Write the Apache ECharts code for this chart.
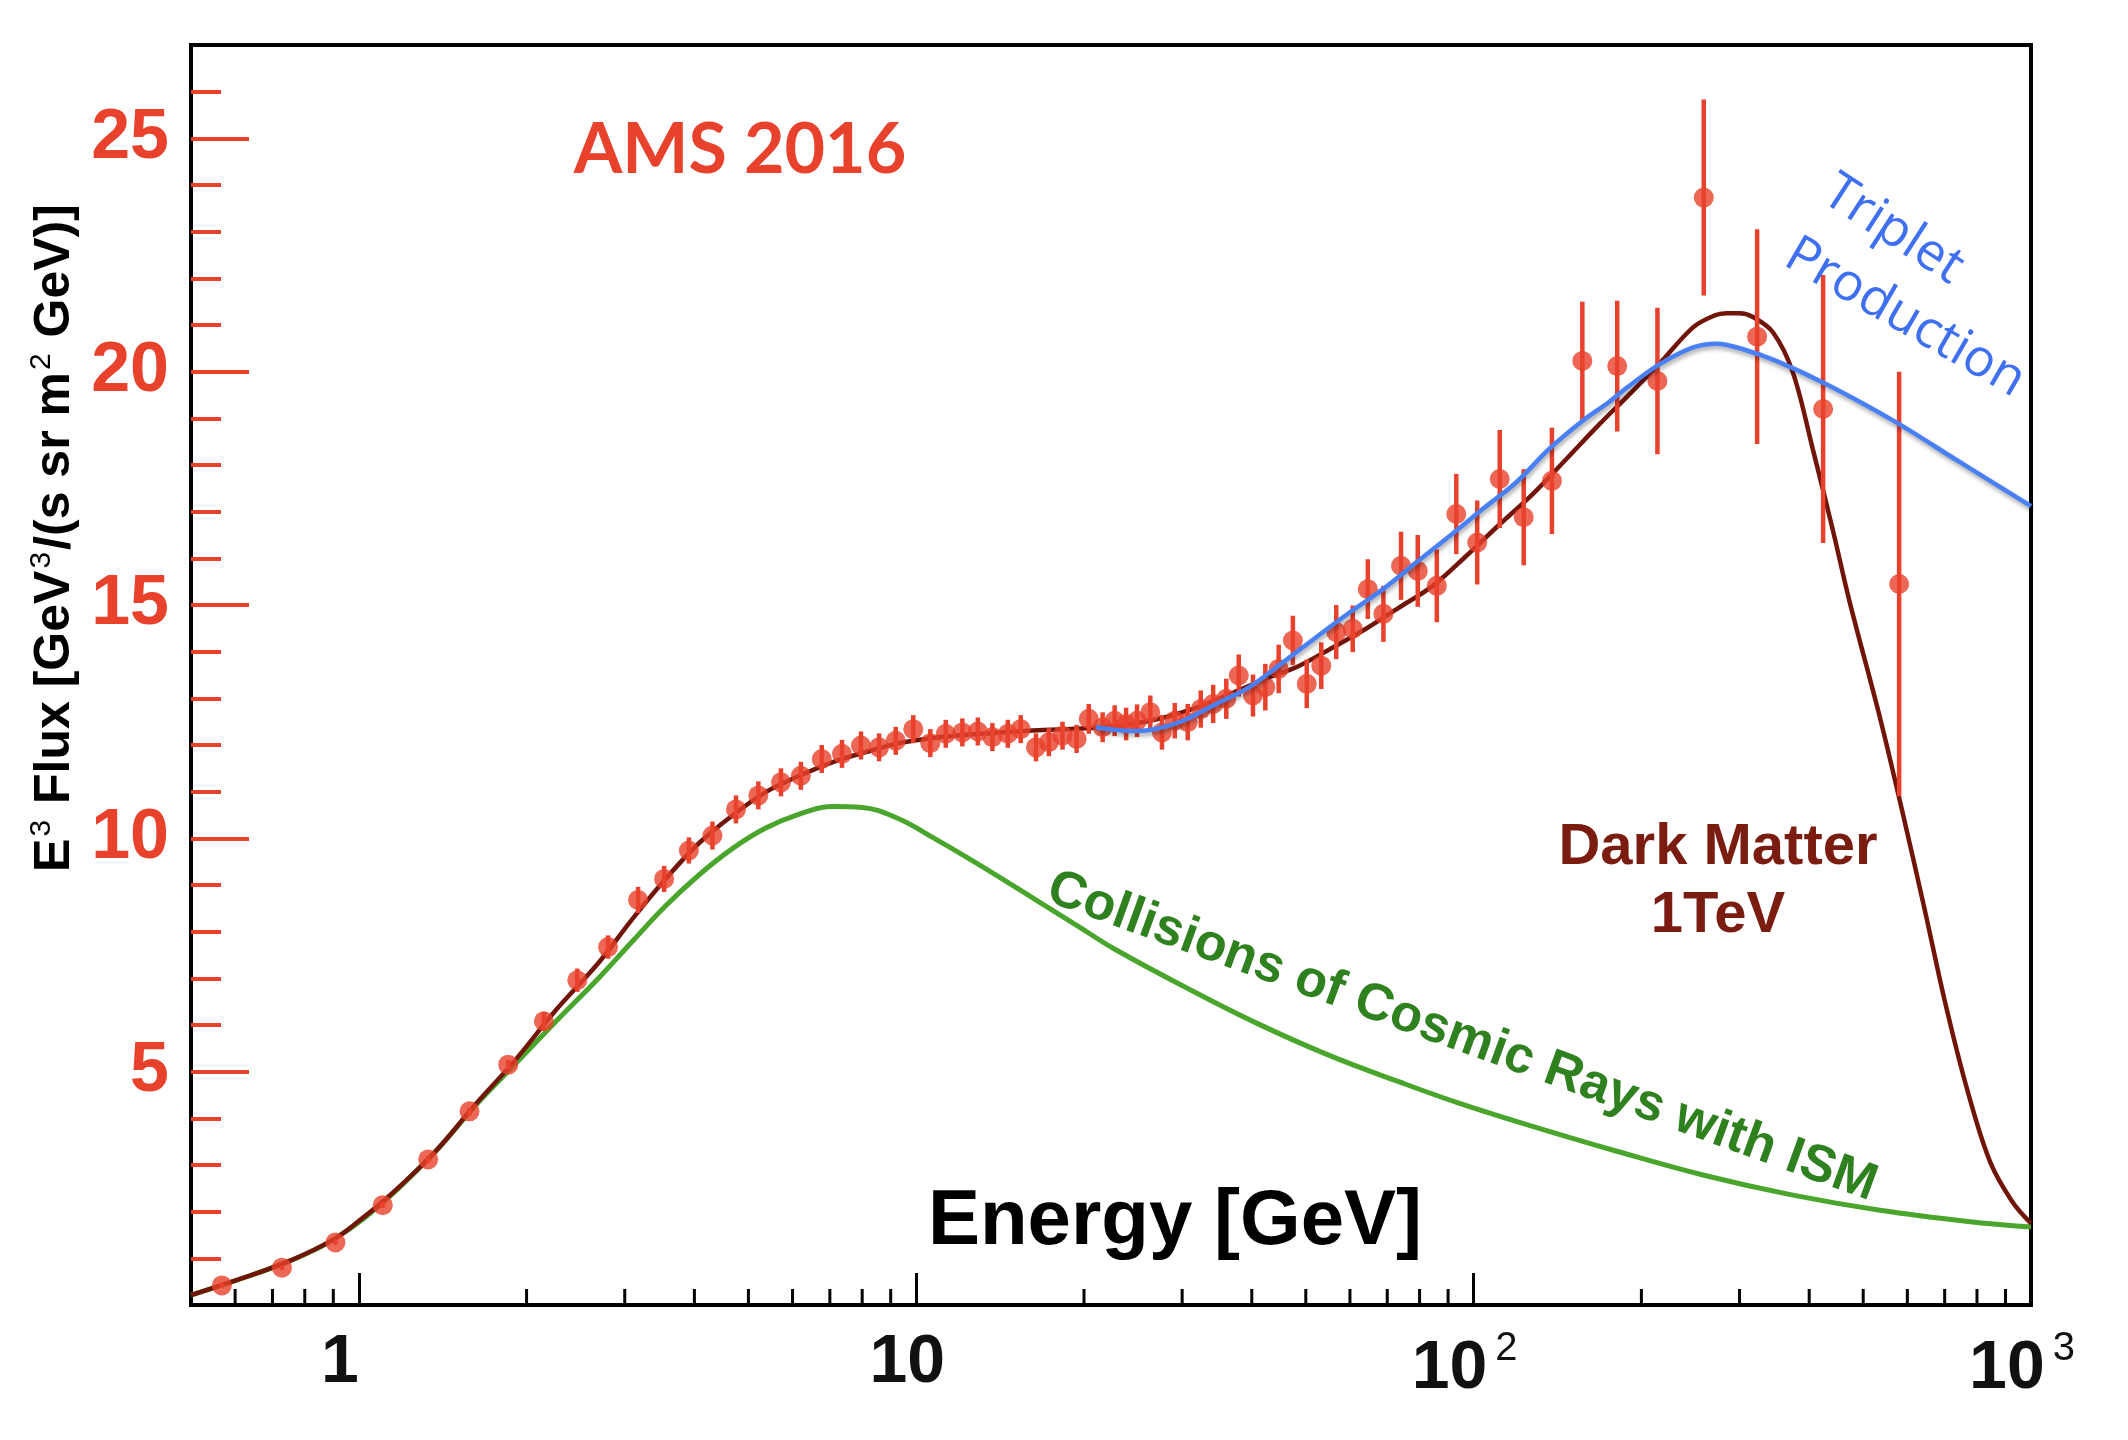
<!DOCTYPE html>
<html><head><meta charset="utf-8">
<script src="https://cdn.jsdelivr.net/npm/echarts@6/dist/echarts.min.js"></script>
<style>html,body{margin:0;padding:0;background:#fff}#c{width:2128px;height:1440px}</style>
</head><body><div id="c"></div>
<script>
// ---- AMS 2016 positron data points ----
const DATA_E = [0.568,0.728,0.908,1.104,1.332,1.58,1.854,2.148,2.466,2.80,3.17,3.53,3.91,4.31,4.75,5.21,5.72,6.21,6.77,7.36,7.96,8.58,9.19,9.88,10.6,11.3,12.1,12.9,13.7,14.6,15.4,16.4,17.3,18.3,19.4,20.4,21.6,22.7,23.8,24.9,26.3,27.6,29.1,30.7,32.4,34.1,36.0,37.9,40.2,42.3,44.7,47.4,50.2,53.3,56.7,60.7,64.6,68.9,74.1,79.4,85.9,93.1,101.5,111.4,123,138.2,156.7,181,213.7,258.8,322.6,423.7,580];
const DATA_F = [0.42,0.80,1.34,2.14,3.12,4.15,5.15,6.08,6.96,7.67,8.68,9.13,9.74,10.06,10.62,10.92,11.20,11.34,11.70,11.81,11.99,11.95,12.09,12.34,12.04,12.24,12.27,12.29,12.17,12.24,12.34,11.95,12.06,12.20,12.13,12.56,12.38,12.52,12.45,12.52,12.70,12.27,12.52,12.49,12.77,12.88,12.99,13.49,13.06,13.24,13.63,14.24,13.31,13.70,14.42,14.49,15.34,14.81,15.84,15.73,15.41,16.95,16.34,17.70,16.88,17.66,20.23,20.12,19.80,23.73,20.75,19.20,15.45];
const DATA_ERR = [0.05,0.05,0.05,0.06,0.07,0.08,0.1,0.2,0.25,0.25,0.28,0.28,0.28,0.3,0.3,0.3,0.3,0.3,0.3,0.3,0.3,0.3,0.3,0.3,0.3,0.3,0.3,0.3,0.3,0.3,0.3,0.3,0.3,0.3,0.3,0.32,0.32,0.33,0.35,0.35,0.36,0.37,0.38,0.39,0.4,0.41,0.43,0.45,0.45,0.5,0.52,0.53,0.52,0.5,0.58,0.5,0.64,0.6,0.73,0.77,0.78,0.86,0.9,1.05,1.03,1.14,1.27,1.4,1.57,2.1,2.3,2.87,4.55];

// ---- Dark Matter 1 TeV model ----
const DM_E = [0.5,0.6,0.75,0.9,1.0,1.13,1.37,1.62,1.9,2.25,2.7,3.1,3.55,4.08,4.68,5.37,6.17,7.07,8.13,9.32,10.7,12.3,14.1,16.2,18.6,21,24.4,28.1,32.2,37,42.4,48.7,55.9,64.1,73.6,84.5,97,111.4,127.8,146.7,168.4,188,215.8,247.6,270,284,300,317,344.6,374,406,442,472,536,587,643,704,771,845,925,1000];
const DM_F = [0.21,0.52,0.94,1.40,1.80,2.32,3.28,4.30,5.22,6.30,7.35,8.28,9.13,9.90,10.49,10.99,11.34,11.63,11.85,12.04,12.15,12.22,12.27,12.31,12.34,12.37,12.45,12.60,12.82,13.12,13.42,13.70,14.09,14.49,14.95,15.41,16.05,16.73,17.38,18.13,18.88,19.45,20.18,20.95,21.20,21.25,21.25,21.17,20.84,19.98,18.34,16.56,15.1,12.58,10.6,8.53,6.40,4.55,3.06,2.22,1.75];

// ---- Triplet production model ----
const TRIPLET_E = [21,24.4,26.2,30.1,34.5,39.6,45.5,52.2,59.9,68.8,78.9,90.6,103.9,119.3,136.8,157,175,188,215.8,247.6,272.8,304.5,349,429.5,566,745.6,1000];
const TRIPLET_F = [12.38,12.30,12.32,12.52,12.88,13.24,13.77,14.31,14.84,15.34,15.91,16.48,17.06,17.63,18.35,18.95,19.35,19.65,20.16,20.52,20.60,20.48,20.23,19.73,18.95,18.06,17.12];

// ---- Collisions of cosmic rays with ISM ----
const ISM_E = [0.5,0.6,0.75,0.9,1.1,1.37,1.62,1.91,2.25,2.7,3.1,3.55,4.08,4.68,5.37,6.17,7.07,8.0,9.3,10.7,12.5,14.5,16.8,19.5,22.6,30.4,40.8,54.8,73.6,94.4,125,180,259,372,536,771,1000];
const ISM_F = [0.21,0.52,0.94,1.40,2.18,3.28,4.28,5.17,6.06,7.02,7.80,8.55,9.22,9.78,10.22,10.52,10.68,10.66,10.42,10.02,9.55,9.08,8.60,8.12,7.64,6.81,6.04,5.36,4.78,4.32,3.86,3.30,2.78,2.36,2.03,1.79,1.67];

// ---- ticks ----
const X_MAJOR = [1,10,100,1000];
const X_MINOR = [0.6,0.7,0.8,0.9,2,3,4,5,6,7,8,9,20,30,40,50,60,70,80,90,200,300,400,500,600,700,800,900];
const Y_MAJOR = [5,10,15,20,25];
const Y_MINOR = [1,2,3,4,6,7,8,9,11,12,13,14,16,17,18,19,21,22,23,24,26];

const RED = '#e8412c';
const BROWN = '#721509';
const BLUE = '#4a80f5';
const GREEN = '#4aa52c';
const SANS = '"Liberation Sans", Arial, sans-serif';

const zip = (a, b) => a.map((v, i) => [v, b[i]]);

const chart = echarts.init(document.getElementById('c'), null, {renderer: 'canvas'});

const option = {
  animation: false,
  backgroundColor: '#fff',
  grid: {left: 191, right: 97, top: 45, bottom: 135, show: true, borderColor: '#000', borderWidth: 4, backgroundColor: 'transparent'},
  xAxis: {
    type: 'log', logBase: 10, min: 0.5, max: 1000,
    axisLine: {show: true, onZero: false, lineStyle: {color: '#000', width: 4}},
    axisTick: {show: true, inside: true, length: 32, lineStyle: {color: '#000', width: 3}},
    minorTick: {show: false},
    splitLine: {show: false},
    axisLabel: {
      margin: 24,
      padding: [0, 18, 0, 0],
      color: '#111',
      fontFamily: SANS, fontWeight: 'bold', fontSize: 68,
      formatter: function (v) {
        if (Math.abs(v - X_MAJOR[0]) < 1e-9) return '{one|1}';
        if (Math.abs(v - X_MAJOR[1]) < 1e-9) return '{b|10}';
        if (Math.abs(v - X_MAJOR[2]) < 1e-6) return '{b|10}{s|2}';
        if (Math.abs(v - X_MAJOR[3]) < 1e-6) return '{b|10}{s|3}';
        return '';
      },
      rich: {
        one: {fontFamily: SANS, fontWeight: 'bold', fontSize: 68, color: '#111', padding: [0, 20, 0, 0]},
        b: {fontFamily: SANS, fontWeight: 'bold', fontSize: 68, color: '#111'},
        s: {fontFamily: SANS, fontWeight: 'normal', fontSize: 40, color: '#111', padding: [0, 0, 40, 8]}
      }
    }
  },
  yAxis: [{
    type: 'value', min: 0, max: 27, interval: 5, position: 'left',
    axisLine: {show: true, onZero: false, lineStyle: {color: '#000', width: 4}},
    axisTick: {show: true, inside: true, length: 58, customValues: Y_MAJOR, lineStyle: {color: RED, width: 4}},
    splitLine: {show: false},
    axisLabel: {
      customValues: Y_MAJOR,
      margin: 22, color: RED, fontFamily: SANS, fontWeight: 'bold', fontSize: 70,
      formatter: function (v) { return (v > 0 && v < 26) ? String(v) : ''; }
    }
  }, {
    type: 'value', min: 0, max: 27, interval: 5, position: 'left',
    axisLine: {show: false, onZero: false},
    axisTick: {show: true, inside: true, length: 30, customValues: Y_MINOR, lineStyle: {color: RED, width: 4}},
    splitLine: {show: false},
    axisLabel: {show: false}
  }],
  series: [
    {
      name: 'Collisions of Cosmic Rays with ISM', type: 'line', data: zip(ISM_E, ISM_F),
      showSymbol: false, smooth: 0.4, lineStyle: {color: GREEN, width: 5}, z: 2
    },
    {
      name: 'Dark Matter 1TeV', type: 'line', data: zip(DM_E, DM_F),
      showSymbol: false, smooth: 0.35, lineStyle: {color: BROWN, width: 4.5}, z: 3
    },
    {
      name: 'AMS error', type: 'custom',
      data: DATA_E.map((e, i) => [e, DATA_F[i] - DATA_ERR[i], DATA_F[i] + DATA_ERR[i]]),
      encode: {x: 0, y: [1, 2]},
      renderItem: function (params, api) {
        const lo = api.coord([api.value(0), api.value(1)]);
        const hi = api.coord([api.value(0), api.value(2)]);
        return {type: 'line', shape: {x1: lo[0], y1: lo[1], x2: hi[0], y2: hi[1]}, style: {stroke: RED, lineWidth: 4.5}};
      },
      z: 4
    },
    {
      name: 'AMS 2016', type: 'scatter', data: zip(DATA_E, DATA_F),
      symbol: 'circle', symbolSize: 20, itemStyle: {color: RED}, z: 5
    },
    {
      name: 'Triplet Production', type: 'line', data: zip(TRIPLET_E, TRIPLET_F),
      showSymbol: false, smooth: 0.35,
      lineStyle: {color: BLUE, width: 4.5, shadowColor: 'rgba(0,0,0,0.35)', shadowBlur: 4, shadowOffsetX: 1, shadowOffsetY: 3}, z: 6
    },
    {
      name: 'x minor ticks', type: 'custom',
      data: X_MINOR.map(v => [v, 0]),
      renderItem: function (params, api) {
        const p = api.coord([api.value(0), 0]);
        return {type: 'line', shape: {x1: p[0], y1: p[1], x2: p[0], y2: p[1] - 16}, style: {stroke: '#000', lineWidth: 3}};
      },
      silent: true, z: 7
    }
  ],
  graphic: [
    {type: 'text', x: 55, y: 538, rotation: Math.PI / 2, z: 10,
      style: {text: 'E{s|3} Flux [GeV{s|3}/(s sr m{s|2} GeV)]', fill: '#000', font: 'bold 50px ' + SANS,
        align: 'center', verticalAlign: 'middle', textAlign: 'center', textVerticalAlign: 'middle',
        rich: {s: {fontSize: 30, fontWeight: 'normal', fontFamily: SANS, fill: '#000', color: '#000', padding: [0, 2, 26, 2]}}}},
    {type: 'text', x: 740, y: 150, z: 10,
      style: {text: 'AMS 2016', fill: RED, font: 'bold 70px Lato, ' + SANS,
        align: 'center', verticalAlign: 'middle', textAlign: 'center', textVerticalAlign: 'middle'}},
    {type: 'text', x: 1893, y: 230, rotation: -33 * Math.PI / 180, z: 10,
      style: {text: 'Triplet', fill: '#3f70f2', font: '52px "Open Sans", ' + SANS,
        align: 'center', verticalAlign: 'middle', textAlign: 'center', textVerticalAlign: 'middle'}},
    {type: 'text', x: 1905, y: 318, rotation: -30 * Math.PI / 180, z: 10,
      style: {text: 'Production', fill: '#3f70f2', font: '52px "Open Sans", ' + SANS,
        align: 'center', verticalAlign: 'middle', textAlign: 'center', textVerticalAlign: 'middle'}},
    {type: 'text', x: 1718, y: 848, z: 10,
      style: {text: 'Dark Matter', fill: '#7a1c10', font: 'bold 58px ' + SANS,
        align: 'center', verticalAlign: 'middle', textAlign: 'center', textVerticalAlign: 'middle'}},
    {type: 'text', x: 1718, y: 916, z: 10,
      style: {text: '1TeV', fill: '#7a1c10', font: 'bold 58px ' + SANS,
        align: 'center', verticalAlign: 'middle', textAlign: 'center', textVerticalAlign: 'middle'}},
    {type: 'text', x: 1462, y: 1037, rotation: -20 * Math.PI / 180, z: 10,
      style: {text: 'Collisions of Cosmic Rays with ISM', fill: '#2f801f', font: 'bold 52px ' + SANS,
        align: 'center', verticalAlign: 'middle', textAlign: 'center', textVerticalAlign: 'middle'}},
    {type: 'text', x: 1175, y: 1222, z: 10,
      style: {text: 'Energy [GeV]', fill: '#000', font: 'bold 78px ' + SANS,
        align: 'center', verticalAlign: 'middle', textAlign: 'center', textVerticalAlign: 'middle'}}
  ]
};
chart.setOption(option);
</script></body></html>
